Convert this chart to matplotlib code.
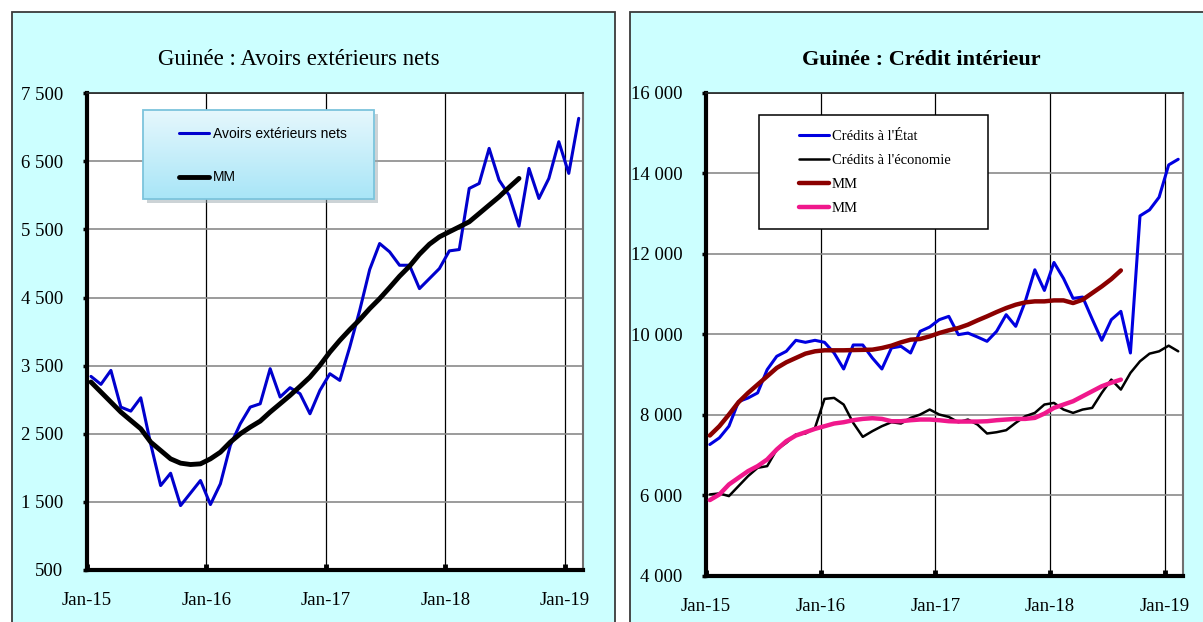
import numpy as np
import matplotlib
matplotlib.use('Agg')
import matplotlib.pyplot as plt
from matplotlib.patches import Rectangle
from matplotlib.ticker import FuncFormatter, FixedLocator

# Données mensuelles, de janvier 2015 à février 2019
annees = ['Jan-15', 'Jan-16', 'Jan-17', 'Jan-18', 'Jan-19']

avoirs = [3343, 3226, 3431, 2892, 2833, 3029, 2350, 1740, 1921, 1446,
          1630, 1814, 1461, 1765, 2330, 2647, 2892, 2941, 3456, 3040,
          3177, 3089, 2794, 3138, 3382, 3284, 3775, 4314, 4912, 5294,
          5172, 4975, 4975, 4632, 4779, 4926, 5186, 5206, 6103, 6176,
          6691, 6225, 6005, 5549, 6397, 5956, 6250, 6789, 6324, 7132]
mm_avoirs = [3260, 3113, 2966, 2819, 2696, 2574, 2378, 2255, 2132, 2069,
             2049, 2059, 2132, 2230, 2378, 2500, 2598, 2686, 2819, 2941,
             3064, 3196, 3333, 3505, 3700, 3872, 4029, 4176, 4338, 4485,
             4647, 4814, 4961, 5137, 5284, 5392, 5466, 5539, 5613, 5735,
             5858, 5980, 6118, 6250]

credit_etat = [7265, 7430, 7720, 8330, 8420, 8546, 9124, 9455, 9579, 9852,
               9802, 9852, 9802, 9537, 9140, 9736, 9736, 9414, 9140, 9662,
               9703, 9537, 10075, 10182, 10364, 10447, 9992, 10033, 9934, 9827,
               10075, 10488, 10199, 10819, 11603, 11091, 11785, 11389, 10893, 10926,
               10380, 9852, 10364, 10571, 9537, 12942, 13091, 13405, 14207, 14347]
credit_eco = [6025, 6050, 5984, 6232, 6480, 6686, 6728, 7141, 7306, 7513,
              7538, 7678, 8397, 8422, 8257, 7802, 7455, 7596, 7720, 7818,
              7786, 7926, 8009, 8133, 8009, 7950, 7818, 7885, 7760, 7538,
              7570, 7620, 7802, 7967, 8050, 8257, 8298, 8133, 8050, 8133,
              8174, 8546, 8876, 8629, 9042, 9331, 9521, 9579, 9719, 9579]
mm_etat = [7488, 7720, 8009, 8314, 8546, 8753, 8959, 9166, 9306, 9414,
           9521, 9579, 9604, 9604, 9604, 9610, 9615, 9620, 9661, 9719,
           9802, 9868, 9885, 9950, 10033, 10100, 10157, 10240, 10347, 10447,
           10554, 10653, 10736, 10794, 10819, 10819, 10843, 10843, 10777, 10860,
           11025, 11190, 11372, 11587]
mm_eco = [5885, 6025, 6273, 6439, 6604, 6728, 6893, 7141, 7348, 7488,
          7570, 7653, 7719, 7786, 7818, 7868, 7901, 7918, 7901, 7843,
          7843, 7868, 7885, 7885, 7868, 7843, 7835, 7835, 7835, 7843,
          7868, 7885, 7901, 7901, 7926, 8033, 8174, 8257, 8339, 8463,
          8587, 8711, 8800, 8876]

# mois depuis janvier 2015 (milieu de mois)
mois = np.arange(len(avoirs)) + 0.4
mois_mm = np.arange(len(mm_avoirs)) + 0.4

W, H = 1203, 622
serif = ['Liberation Serif', 'DejaVu Serif']
plt.rcParams['font.family'] = serif

fig = plt.figure(figsize=(W / 100, H / 100), dpi=100)
fig.patch.set_facecolor('white')

# fonds des deux cadres
for x0, x1 in [(12, 615), (630, 1230)]:
    fig.patches.append(Rectangle((x0 / W, -0.1), (x1 - x0) / W, 1.1 - 12 / H,
                                 transform=fig.transFigure, facecolor='#CCFFFF',
                                 edgecolor='#3a3a3a', lw=1.3, zorder=-10))


def fmt(v, p):
    return f"{int(v):,}".replace(",", " ")


def style_axe(ax, ymin, ymax, pas):
    ax.set_facecolor('white')
    ax.set_ylim(ymin, ymax)
    ax.yaxis.set_major_locator(FixedLocator(np.arange(ymin, ymax + 1, pas)))
    ax.yaxis.set_major_formatter(FuncFormatter(fmt))
    ax.set_xticks(np.arange(len(annees)) * 12)
    ax.set_xticklabels(annees)
    ax.grid(axis='y', color='#8a8a8a', lw=1.2, zorder=0)
    ax.grid(axis='x', color='black', lw=0.9, zorder=0)
    ax.set_axisbelow(True)
    for s in ['left', 'bottom']:
        ax.spines[s].set_linewidth(3)
        ax.spines[s].set_color('black')
    ax.spines['top'].set_linewidth(1.2)
    ax.spines['top'].set_color('#202020')
    ax.spines['right'].set_linewidth(1.5)
    ax.spines['right'].set_color('#707070')
    ax.tick_params(axis='y', direction='out', length=3, width=2.5, pad=14, labelsize=13.5)
    ax.tick_params(axis='x', direction='in', length=4, width=3.5, pad=16, labelsize=13.5)


# ---- graphique de gauche : avoirs extérieurs nets
ax1 = fig.add_axes([87 / W, 1 - 570 / H, 495.7 / W, 476.7 / H])
style_axe(ax1, 500, 7500, 1000)
l1, = ax1.plot(mois, avoirs, color='#0000CD', lw=2.2, solid_joinstyle='round',
               solid_capstyle='round', label='Avoirs extérieurs nets', zorder=3)
l2, = ax1.plot(mois_mm, mm_avoirs, color='black', lw=3.5, solid_joinstyle='round',
               solid_capstyle='round', label='MM', zorder=4)

# cadre de légende en dégradé avec ombre
bx0, bx1 = (142.7 - 87) / 495.7, (374.3 - 87) / 495.7
by0, by1 = (570 - 199) / 476.7, (570 - 110) / 476.7
ax1.add_patch(Rectangle((bx0 + 0.008, by0 - 0.009), bx1 - bx0, by1 - by0,
                        transform=ax1.transAxes, facecolor='#9aa9ae', alpha=0.5,
                        edgecolor='none', zorder=5))
grad = np.linspace(0, 1, 100).reshape(-1, 1)
haut = np.array([0.90, 0.97, 0.99])
bas = np.array([0.66, 0.90, 0.97])
img = haut[None, None, :] * (1 - grad[:, :, None]) + bas[None, None, :] * grad[:, :, None]
ax1.imshow(img, extent=(bx0, bx1, by0, by1), transform=ax1.transAxes,
           aspect='auto', zorder=6)
ax1.add_patch(Rectangle((bx0, by0), bx1 - bx0, by1 - by0, transform=ax1.transAxes,
                        facecolor='none', edgecolor='#7cc4dc', lw=1.3, zorder=7))
ax1.set_xlim(0, 49.8)
ax1.set_ylim(500, 7500)
leg1 = ax1.legend(handles=[l1, l2], loc='center left',
                  bbox_to_anchor=((179 - 87) / 495.7, (570 - 155.5) / 476.7),
                  frameon=False, borderpad=0, borderaxespad=0, handlelength=2.15,
                  handletextpad=0.3, labelspacing=2.15,
                  prop={'family': ['Liberation Sans', 'DejaVu Sans'], 'size': 10})
leg1.set_zorder(8)

fig.text(299 / W, 1 - 65 / H, 'Guinée : Avoirs extérieurs nets', ha='center',
         va='baseline', fontsize=16.5)

# ---- graphique de droite : crédit intérieur
ax2 = fig.add_axes([706 / W, 1 - 576 / H, 477 / W, 483.3 / H])
style_axe(ax2, 4000, 16000, 2000)
ax2.set_xlim(0, 49.9)
r1, = ax2.plot(mois, credit_etat, color='#0000E0', lw=2.2, solid_joinstyle='round',
               solid_capstyle='round', label="Crédits à l'État", zorder=3)
r2, = ax2.plot(mois, credit_eco, color='black', lw=1.8, solid_joinstyle='round',
               solid_capstyle='round', label="Crédits à l'économie", zorder=3)
r3, = ax2.plot(mois_mm, mm_etat, color='#8B0000', lw=3.2, solid_joinstyle='round',
               solid_capstyle='round', label='MM', zorder=4)
r4, = ax2.plot(mois_mm, mm_eco, color='#F0188C', lw=3.2, solid_joinstyle='round',
               solid_capstyle='round', label='MM', zorder=4)

cx0, cx1 = (759.3 - 706) / 477, (988.3 - 706) / 477
cy0, cy1 = (576 - 229) / 483.3, (576 - 115) / 483.3
ax2.add_patch(Rectangle((cx0, cy0), cx1 - cx0, cy1 - cy0, transform=ax2.transAxes,
                        facecolor='white', edgecolor='black', lw=1.1, zorder=6))
leg2 = ax2.legend(handles=[r1, r2, r3, r4], loc='center left',
                  bbox_to_anchor=((799 - 706) / 477, (576 - 172.3) / 483.3),
                  frameon=False, borderpad=0, borderaxespad=0, handlelength=2.05,
                  handletextpad=0.2, labelspacing=0.75,
                  prop={'family': serif, 'size': 10.5})
leg2.set_zorder(8)

fig.text(921 / W, 1 - 65 / H, 'Guinée : Crédit intérieur', ha='center',
         va='baseline', fontsize=16, fontweight='bold')

fig.savefig('out.png', dpi=100)
